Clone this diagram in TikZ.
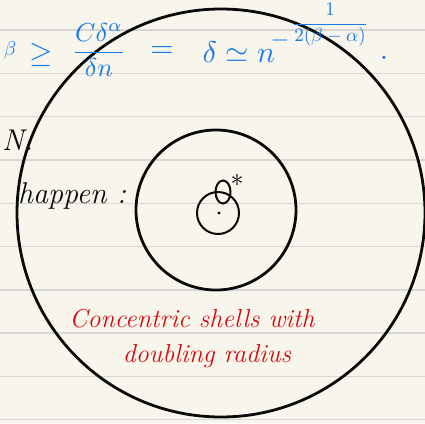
\documentclass[tikz,border=0pt]{standalone}
\usepackage{fontspec}
\usepackage{amsmath}
\usepackage{xcolor}
\usepackage{tikz}
\usetikzlibrary{shapes.geometric, positioning}
\definecolor{PaperBg}{RGB}{248, 246, 236}
\definecolor{RuleGray}{RGB}{214, 214, 214}
\definecolor{InkBlue}{RGB}{22, 122, 232}
\definecolor{InkRed}{RGB}{212, 12, 12}
\definecolor{InkBlack}{RGB}{10, 10, 10}

\begin{document}
\begin{tikzpicture}[x=1pt, y=-1pt,
  shell/.style={draw=InkBlack, circle, line width=2.8pt, inner sep=0pt},
  blob/.style={draw=InkBlack, line width=2pt, inner sep=0pt},
  rule/.style={RuleGray, line width=1.4pt},
  blue/.style={inner sep=0pt, text=InkBlue},
  note/.style={inner sep=0pt, font=\fontsize{30}{34}\selectfont\itshape\color{InkBlack}},
  redtxt/.style={inner sep=0pt, font=\fontsize{26}{30}\selectfont\itshape\color{InkRed}}
]
\useasboundingbox (0,0) rectangle (425,423);
\clip (0,0) rectangle (425,423);
\fill[PaperBg] (0,0) rectangle (425,423);
% ruled paper
\foreach \k in {0,...,9}
  \draw[rule] (0,{30+43.3*\k}) -- (425,{30+43.3*\k});

% shells
\node[shell, minimum size=408pt] (outer) at (221,213) {};
\node[shell, minimum size=160pt] (middle) at (216,210) {};
\node[shell, minimum size=42pt, line width=2pt] (inner) at (218,213) {};
\node[blob, ellipse, minimum width=15pt, minimum height=23pt] (theta) at (223,192) {};
\node[scale=2.6, inner sep=0pt] (star) at (237,180) {$\ast$};
\fill[InkBlack] (219,213) circle (1.6pt);

% blue estimate
\node[blue, scale=2] (beta) at (10,50) {$\beta$};
\node[blue, scale=3] (geq) at (41,55) {$\geq$};
\node[blue, scale=2.6] (frac) at (99,50) {$\dfrac{C\delta^{\alpha}}{\delta n}$};
\node[blue, scale=3] (eqs) at (162,52) {$=$};
\node[blue, scale=3, anchor=base west] (rel) at (202,62) {$\delta\simeq n$};
\node[blue, scale=2.4] (minus) at (280,40) {$-$};
\node[blue, scale=1.9] (expo) at (330,25) {$\dfrac{1}{2(\beta-\alpha)}$};
\node[blue, scale=3] (stop) at (384,58) {.};

% notes
\node[note, anchor=base west] (nlab) at (2,150) {N.};
\node[note, anchor=base west] (happen) at (18,203) {happen :};
\node[redtxt, anchor=base] (line1) at (192,327) {Concentric shells with};
\node[redtxt, anchor=base] (line2) at (207,362) {doubling radius};
\end{tikzpicture}
\end{document}
